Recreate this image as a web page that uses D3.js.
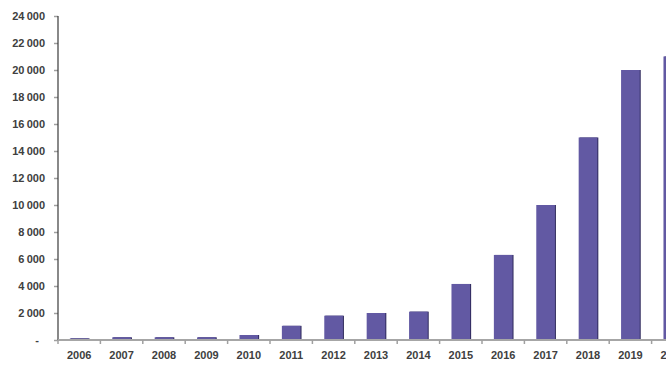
<!DOCTYPE html>
<html>

<head>
  <meta charset="UTF-8" />
  <title>Bar chart</title>
  <script src="https://d3js.org/d3.v7.min.js"></script>
  <style>
    body { margin: 0; background: #fff; }
    svg { display: block; }
    text { font-family: "Liberation Sans", Arial, sans-serif; font-weight: bold; fill: #404040; }
  </style>
</head>

<body>
<div id="chart"></div>

<script>
  // data
  var years = ["2006", "2007", "2008", "2009", "2010", "2011", "2012", "2013",
    "2014", "2015", "2016", "2017", "2018", "2019", "2020"];
  var values = [120, 200, 200, 200, 370, 1050, 1800, 2000, 2100, 4150, 6300, 10000, 15000, 20000, 21000];
  var yTicks = [0, 2000, 4000, 6000, 8000, 10000, 12000, 14000, 16000, 18000, 20000, 22000, 24000];

  var data = years.map((y, i) => ({ year: y, value: values[i] }));

  const chartW = 666, chartH = 372;
  const mLeft = 58, mBottom = 340, mTop = 16;
  const step = 42.4;

  const svg = d3.select("#chart")
    .append("svg")
    .attr("width", chartW)
    .attr("height", chartH);

  var xScale = d3.scaleBand()
    .domain(years)
    .range([mLeft, mLeft + step * years.length])
    .paddingInner(0.56)
    .paddingOuter(0.28);

  var yScale = d3.scaleLinear()
    .domain([0, 24000])
    .range([mBottom, mTop]);

  // y axis
  var fmt = d => d === 0 ? "-" : d3.format(",")(d).replace(",", "\u2009");
  var yAxis = d3.axisLeft(yScale)
    .tickValues(yTicks)
    .tickFormat(fmt)
    .tickSize(4)
    .tickPadding(9);

  var gy = svg.append("g")
    .attr("transform", "translate(" + mLeft + ",0)")
    .call(yAxis);
  gy.select(".domain").remove();
  gy.selectAll(".tick line").attr("stroke", "#a0a0a0").attr("stroke-width", 1.5);
  gy.selectAll(".tick text").style("font-size", "11px").attr("fill", "#404040")
    .attr("dx", d => d === 0 ? -6 : 0);
  svg.append("line")
    .attr("x1", mLeft).attr("x2", mLeft)
    .attr("y1", yScale(24000)).attr("y2", mBottom)
    .attr("stroke", "#3a3a3a").attr("stroke-width", 1.2);

  // bars (with a thin dark edge on the right)
  svg.selectAll("rect.edge")
    .data(data)
    .enter()
    .append("rect")
    .attr("class", "edge")
    .attr("x", d => xScale(d.year) + 1)
    .attr("y", d => yScale(d.value))
    .attr("width", xScale.bandwidth())
    .attr("height", d => mBottom - yScale(d.value))
    .attr("fill", "#2f2a5c");

  svg.selectAll("rect.bar")
    .data(data)
    .enter()
    .append("rect")
    .attr("class", "bar")
    .attr("x", d => xScale(d.year))
    .attr("y", d => yScale(d.value))
    .attr("width", xScale.bandwidth())
    .attr("height", d => mBottom - yScale(d.value))
    .attr("fill", "#6259a3");

  // x axis
  var xAxis = d3.axisBottom(xScale).tickSize(0).tickPadding(11);
  var gx = svg.append("g")
    .attr("transform", "translate(0," + mBottom + ")")
    .call(xAxis);
  gx.select(".domain").remove();
  gx.selectAll(".tick text").style("font-size", "11px").attr("fill", "#404040");

  svg.append("line")
    .attr("x1", mLeft).attr("x2", chartW)
    .attr("y1", mBottom).attr("y2", mBottom)
    .attr("stroke", "#a6a6a6").attr("stroke-width", 2);

  // tick marks between categories
  var sepX = d => xScale(d) - xScale.step() * xScale.paddingInner() / 2;
  svg.selectAll("line.sep")
    .data(years)
    .enter()
    .append("line")
    .attr("class", "sep")
    .attr("x1", sepX)
    .attr("x2", sepX)
    .attr("y1", mBottom)
    .attr("y2", mBottom + 4)
    .attr("stroke", "#a0a0a0")
    .attr("stroke-width", 1.5);
</script>
</body>

</html>
